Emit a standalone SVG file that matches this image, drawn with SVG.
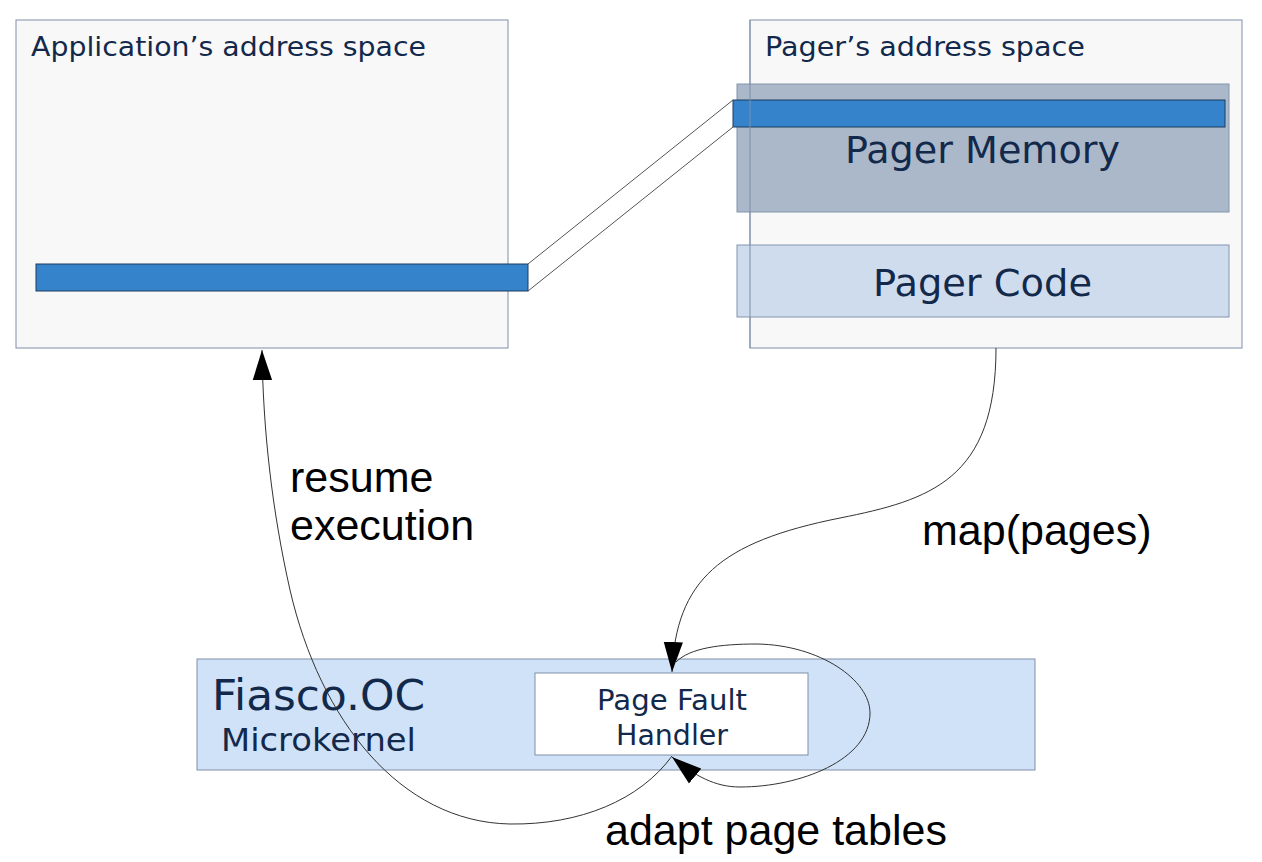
<svg xmlns="http://www.w3.org/2000/svg" width="1262" height="862" viewBox="0 0 1262 862">
<style>
.box{fill:#f8f8f8;stroke:#7f8fa8;stroke-width:1}
.bar{fill:#3584cb;stroke:#1d3d5f;stroke-width:1}
.lbl{font-family:"DejaVu Sans",Verdana,sans-serif;fill:#13294b}
.blk{font-family:"Liberation Sans",Arial,sans-serif;fill:#000;font-size:43px}
.conn{fill:none;stroke:#333;stroke-width:1}
.link{fill:none;stroke:#555;stroke-width:1}
</style>
<defs>
<marker id="arr" markerUnits="userSpaceOnUse" markerWidth="30" markerHeight="20" viewBox="0 0 28 18" refX="28" refY="9" orient="auto">
<path d="M0,0 L28,9 L0,18 z" fill="#000"/>
</marker>
</defs>
<rect width="1262" height="862" fill="#fff"/>
<g id="app">
<rect class="box" x="16" y="20" width="492" height="328"/>
<text class="lbl" x="31" y="56" font-size="26" textLength="395" lengthAdjust="spacingAndGlyphs">Application’s address space</text>
<rect class="bar" x="36" y="264" width="492" height="27"/>
</g>
<g id="pager">
<rect class="box" x="750" y="20" width="492" height="328"/>
<text class="lbl" x="765" y="56" font-size="26" textLength="320" lengthAdjust="spacingAndGlyphs">Pager’s address space</text>
<rect x="737" y="84" width="492" height="128" fill="#aab8c9" stroke="#8394ad"/>
<rect class="bar" x="733" y="100" width="492" height="27"/>
<text class="lbl" x="982.5" y="163" font-size="38" text-anchor="middle" textLength="275" lengthAdjust="spacingAndGlyphs">Pager Memory</text>
<rect x="737" y="245" width="492" height="72" fill="#cfdcee" stroke="#8394ad"/>
<text class="lbl" x="982.5" y="296" font-size="38" text-anchor="middle" textLength="219" lengthAdjust="spacingAndGlyphs">Pager Code</text>
<line x1="750" y1="20" x2="750" y2="348" stroke="#7f8fa8" stroke-width="1"/>
</g>
<g id="kernel">
<rect x="197" y="659" width="838" height="111" fill="#cfe2f8" stroke="#7f8fa8"/>
<text class="lbl" x="212" y="710" font-size="43" textLength="213" lengthAdjust="spacingAndGlyphs">Fiasco.OC</text>
<text class="lbl" x="221" y="751" font-size="32" textLength="195" lengthAdjust="spacingAndGlyphs">Microkernel</text>
</g>
<g id="pfh">
<rect x="535" y="673" width="273" height="82" fill="#fff" stroke="#7f8fa8"/>
<text class="lbl" x="672" y="710" font-size="28" text-anchor="middle" textLength="150" lengthAdjust="spacingAndGlyphs">Page Fault</text>
<text class="lbl" x="672" y="745" font-size="28" text-anchor="middle" textLength="112" lengthAdjust="spacingAndGlyphs">Handler</text>
</g>
<g id="connectors">
<line class="link" x1="528" y1="264" x2="733" y2="100"/>
<line class="link" x1="528" y1="291" x2="733" y2="127"/>
<path class="conn" d="M996,348 C996,480 930,500 840,518 C720,542 676,580 672,672" marker-end="url(#arr)"/>
<path class="conn" d="M672,756 C640,800 580,825 510,824 C400,822 320,720 290,590 C272,510 263,430 262,350" marker-end="url(#arr)"/>
<path class="conn" d="M676,662 C690,648 720,644 757,644 C820,645 870,680 870,713 C870,760 800,787 740,787 C715,787 695,776 672,757" marker-end="url(#arr)"/>
</g>
<g id="labels">
<text class="blk" x="290" y="492">resume</text>
<text class="blk" x="290" y="540">execution</text>
<text class="blk" x="922" y="545">map(pages)</text>
<text class="blk" x="605" y="845">adapt page tables</text>
</g>
</svg>
